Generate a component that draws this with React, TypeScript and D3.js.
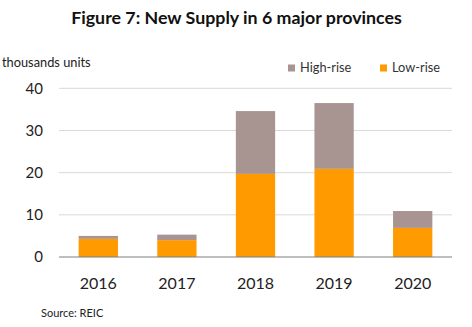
import React from "react";
import * as d3 from "d3";

const years = ["2016", "2017", "2018", "2019", "2020"];
const lowRise = [4.3, 4.0, 19.7, 20.9, 6.9];
const highRise = [0.7, 1.3, 14.9, 15.6, 4.0];
const yTicks = [0, 10, 20, 30, 40];
const seriesNames = ["High-rise", "Low-rise"];
const colors = { high: "#A89592", low: "#FF9A00" };

const W = 472;
const H = 327;
const plot = { left: 59, right: 452, top: 88.3, bottom: 257 };
const FONT = "Lato, 'Open Sans', sans-serif";

export default function App() {
  const x = d3.scaleBand<string>().domain(years).range([plot.left, plot.right]).paddingInner(0.5).paddingOuter(0.25);
  const y = d3.scaleLinear().domain([0, 40]).range([plot.bottom, plot.top]);

  return (
    <svg width={W} height={H} style={{ position: "absolute", left: 0, top: 0, background: "#fff" }} fontFamily={FONT}>
      <rect width={W} height={H} fill="#fff" />
      <text x={236.5} y={24} textAnchor="middle" fontWeight="bold" fontSize={17.8} fill="#111">
        Figure 7: New Supply in 6 major provinces
      </text>
      <text x={2} y={67} fontSize={12.8} fill="#222">thousands units</text>
      {/* legend */}
      <rect x={288} y={64.5} width={7} height={7} fill={colors.high} />
      <text x={300} y={72} fontSize={12.8} fill="#333">{seriesNames[0]}</text>
      <rect x={380} y={64.5} width={7} height={7} fill={colors.low} />
      <text x={392} y={72} fontSize={12.8} fill="#333">{seriesNames[1]}</text>
      {/* grid */}
      {yTicks.map((t) => (
        <g key={t}>
          {t !== 0 && (
            <line x1={plot.left} x2={plot.right} y1={y(t)} y2={y(t)} stroke="#D9D9D9" strokeWidth={1} />
          )}
          <text x={43} y={y(t)} dy="0.35em" textAnchor="end" fontSize={15} fill="#222">{t}</text>
        </g>
      ))}
      {/* bars */}
      {years.map((yr, i) => (
        <g key={yr}>
          <rect x={x(yr)} width={x.bandwidth()} y={y(lowRise[i])} height={y(0) - y(lowRise[i])} fill={colors.low} />
          <rect
            x={x(yr)}
            width={x.bandwidth()}
            y={y(lowRise[i] + highRise[i])}
            height={y(lowRise[i]) - y(lowRise[i] + highRise[i])}
            fill={colors.high}
          />
          <text x={(x(yr) as number) + x.bandwidth() / 2} y={289} textAnchor="middle" fontSize={16} fill="#222">
            {yr}
          </text>
        </g>
      ))}
      <line x1={plot.left} x2={plot.right} y1={y(0)} y2={y(0)} stroke="#7F7F7F" strokeWidth={1} />
      <text x={41} y={317} fontSize={11} fill="#222">Source: REIC</text>
    </svg>
  );
}
